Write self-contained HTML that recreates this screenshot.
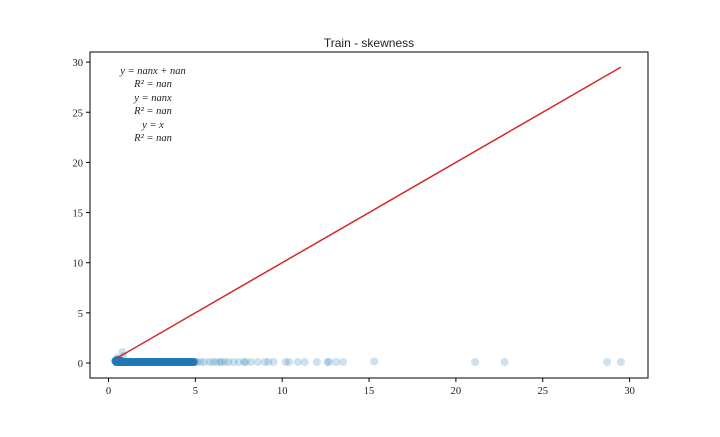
<!DOCTYPE html>
<html><head><meta charset="utf-8"><style>
body{margin:0;background:#fff;}
svg text{font-family:"Liberation Serif",serif;fill:#222;}
</style></head><body>
<svg id="chart" width="720" height="432" viewBox="0 0 720 432" xmlns="http://www.w3.org/2000/svg">
<text x="369" y="47" text-anchor="middle" font-size="12" style="font-family:'Liberation Sans',sans-serif">Train - skewness</text>
<g id="marks"></g>
<g id="axes"></g>
<g font-size="10.5" font-style="italic" text-anchor="middle">
<text x="153" y="74">y = nanx + nan</text>
<text x="153" y="87">R² = nan</text>
<text x="153" y="101">y = nanx</text>
<text x="153" y="114">R² = nan</text>
<text x="153" y="128">y = x</text>
<text x="153" y="141">R² = nan</text>
</g>
</svg>
<script>
const xTicks=[0,5,10,15,20,25,30];
const yTicks=[0,5,10,15,20,25,30];
const lineX=[0.5,29.5];
const lineY=[0.5,29.5];
const pointX=[0.4,0.45,0.5,0.55,0.6,0.65,0.7,0.75,0.8,0.85,0.9,0.95,1.0,1.1,1.2,1.3,1.4,1.5,1.6,1.7,1.8,1.9,2.0,2.1,2.2,2.3,2.4,2.5,2.6,2.7,2.8,2.9,3.0,3.1,3.2,3.3,3.4,3.5,3.6,3.7,3.8,3.9,4.0,4.1,4.2,4.3,4.4,4.5,4.6,4.7,4.8,4.9,5.0,5.1,5.3,5.5,5.8,6.0,6.2,6.4,6.5,6.7,6.9,7.2,7.5,7.8,7.9,8.2,8.6,9.0,9.2,9.5,10.2,10.4,10.9,11.3,12.0,12.6,12.7,13.1,13.5,15.3,21.1,22.8,28.7,29.5,0.8,0.85,0.5,0.6];
const pointY=[0.2,0.1,0.3,0.1,0.2,0.1,0.1,0.2,0.1,0.1,0.1,0.1,0.1,0.1,0.1,0.1,0.1,0.1,0.1,0.1,0.1,0.1,0.1,0.1,0.1,0.1,0.1,0.1,0.1,0.1,0.1,0.1,0.1,0.1,0.1,0.1,0.1,0.1,0.1,0.1,0.1,0.1,0.1,0.1,0.1,0.1,0.1,0.1,0.1,0.1,0.1,0.1,0.1,0.1,0.1,0.1,0.1,0.1,0.1,0.1,0.1,0.1,0.1,0.1,0.1,0.1,0.1,0.1,0.1,0.1,0.1,0.1,0.1,0.1,0.1,0.1,0.1,0.1,0.1,0.1,0.1,0.15,0.1,0.1,0.1,0.1,1.1,0.7,0.5,0.4];
const X0=90,X1=648,Y0=52,Y1=378;
function sx(v){return 108.5+v*17.37;}
function sy(v){return 363-v*10.03;}
const NS="http://www.w3.org/2000/svg";
const marks=document.getElementById('marks'),axes=document.getElementById('axes');
function mk(t,a,p){const e=document.createElementNS(NS,t);for(const k in a)e.setAttribute(k,a[k]);p.appendChild(e);return e;}
for(let i=0;i<pointX.length;i++){
  const c=mk('circle',{cx:sx(pointX[i]),cy:sy(pointY[i]),r:4,fill:'#1f77b4','fill-opacity':0.22},marks);
  
  
}
// dense solid band
for(let i=0;i<52;i++){
  const c=mk('circle',{cx:sx(pointX[i]),cy:sy(pointY[i]),r:4,fill:'#1f77b4','fill-opacity':0.9},marks);
  
  
}
const ln=mk('line',{x1:sx(lineX[0]),y1:sy(lineY[0]),x2:sx(lineX[1]),y2:sy(lineY[1]),stroke:'#d62728','stroke-width':1.5},marks);


const fr=mk('rect',{x:X0,y:Y0,width:X1-X0,height:Y1-Y0,fill:'none',stroke:'#000','stroke-width':1},axes);


xTicks.forEach(v=>{
  mk('line',{x1:sx(v),x2:sx(v),y1:Y1,y2:Y1+4,stroke:'#000'},axes);
  const t=mk('text',{x:sx(v),y:Y1+16,'text-anchor':'middle','font-size':10.5},axes);
  t.textContent=v;
  
  
});
yTicks.forEach(v=>{
  mk('line',{x1:X0-4,x2:X0,y1:sy(v),y2:sy(v),stroke:'#000'},axes);
  const t=mk('text',{x:X0-7,y:sy(v)+4,'text-anchor':'end','font-size':10.5},axes);
  t.textContent=v;
  
  
});
</script>
</body></html>
